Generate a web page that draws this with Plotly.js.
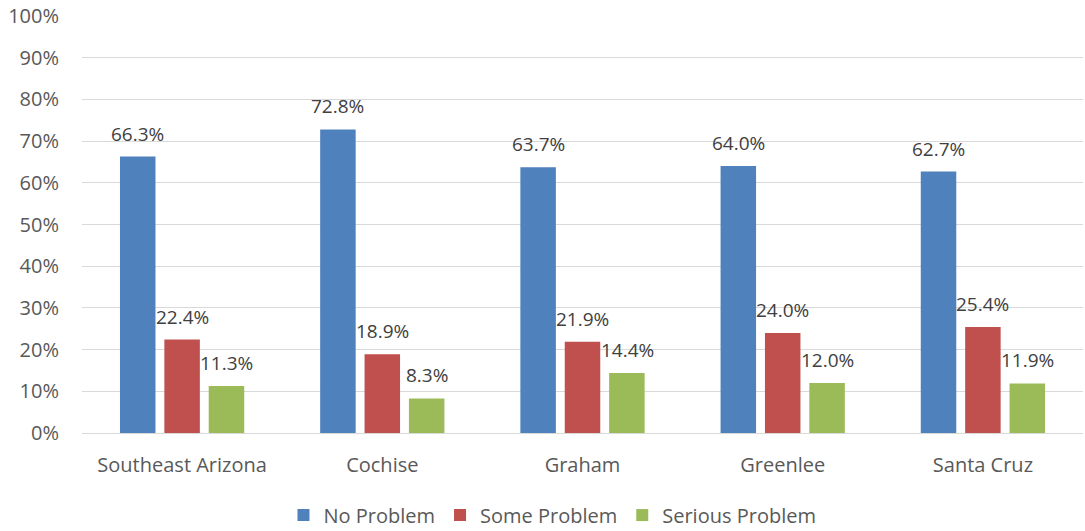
<!DOCTYPE html>
<html><head><meta charset="utf-8">
<script src="https://cdn.plot.ly/plotly-3.0.1.min.js"></script>
<style>html,body{margin:0;padding:0;background:#fff}</style>
</head><body>
<div id="chart" style="width:1085px;height:531px"></div>
<script>
const categories = ["Southeast Arizona", "Cochise", "Graham", "Greenlee", "Santa Cruz"];
const seriesNames = ["No Problem", "Some Problem", "Serious Problem"];
const noProblem = [66.3, 72.8, 63.7, 64.0, 62.7];
const someProblem = [22.4, 18.9, 21.9, 24.0, 25.4];
const seriousProblem = [11.3, 8.3, 14.4, 12.0, 11.9];
const colors = ["#4F81BD", "#C0504D", "#9BBB59"];
const yTicks = [0,10,20,30,40,50,60,70,80,90,100];

const fam = "Open Sans, Noto Sans, sans-serif";
const allSeries = [noProblem, someProblem, seriousProblem];
const traces = allSeries.map((vals, i) => ({
  type: "bar", name: seriesNames[i], x: categories, y: vals.map(v => v/100),
  marker: {color: colors[i]},
  hoverinfo: "skip"
}));

const annotations = [];
const offsets = [-44.5, 0, 44.5];
allSeries.forEach((vals, i) => {
  vals.forEach((v, j) => {
    annotations.push({
      x: categories[j], y: v/100, xref: "x", yref: "y",
      text: v.toFixed(1) + "%", showarrow: false,
      xanchor: "center", yanchor: "bottom", xshift: offsets[i], yshift: 8,
      font: {family: fam, size: 19, color: "#404040"}
    });
  });
});

const layout = {
  width: 1085, height: 531,
  margin: {l: 82, r: 2, t: 16, b: 98, autoexpand: false},
  barmode: "group", bargap: 0.335, bargroupgap: 0.2,
  font: {family: fam, size: 20, color: "#595959"},
  plot_bgcolor: "#fff", paper_bgcolor: "#fff",
  xaxis: {tickfont: {size: 20, color: "#595959"}, showline: true, linecolor: "#D9D9D9", linewidth: 1, ticks: "", ticklabelstandoff: 14},
  yaxis: {range: [0, 1], tickvals: yTicks.map(v => v/100), ticktext: yTicks.map(v => v + "%"),
          showgrid: true, gridcolor: "#D9D9D9", gridwidth: 1, zeroline: false, showline: false,
          tickfont: {size: 20, color: "#595959"}, ticks: "", ticklabelstandoff: 22},
  legend: {orientation: "h", x: 0.47, xanchor: "center", yref: "container", y: 0.03, yanchor: "middle",
           font: {size: 20, color: "#595959"}, itemwidth: 30, traceorder: "normal"},
  annotations: annotations,
  showlegend: true
};
Plotly.newPlot("chart", traces, layout, {displayModeBar: false, staticPlot: true});
</script>
</body></html>
